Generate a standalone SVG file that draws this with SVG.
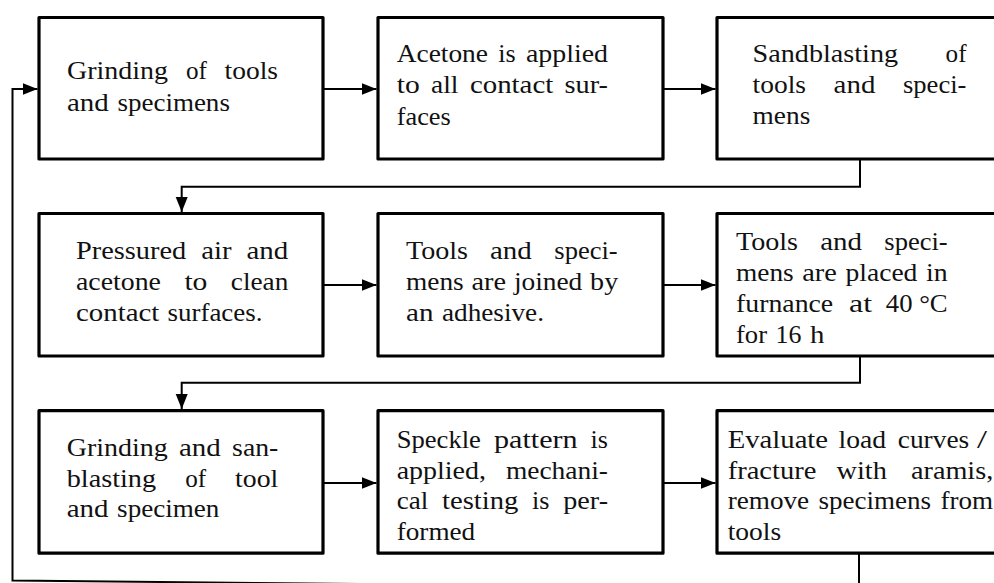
<svg xmlns="http://www.w3.org/2000/svg" width="994" height="583" viewBox="0 0 994 583">
<defs>
<style>
.box{fill:#fff;stroke:#000;stroke-width:3.2;stroke-linejoin:round}
.c{fill:none;stroke:#000;stroke-width:2}
.t text{font-family:'Liberation Serif','DejaVu Serif','Times New Roman',serif;font-size:25px;fill:#111}
</style>
<marker id="ah" markerUnits="userSpaceOnUse" markerWidth="16" markerHeight="13" refX="15" refY="6" orient="auto">
<path d="M0,0 L15,6 L0,12 z" fill="#000"/>
</marker>
</defs>
<rect width="994" height="583" fill="#fff"/>

<g id="connectors">
<path class="c" d="M323,89 H376.5" marker-end="url(#ah)"/>
<path class="c" d="M663,89 H715.5" marker-end="url(#ah)"/>
<path class="c" d="M860,159 V186.7 H181.7 V212" marker-end="url(#ah)"/>
<path class="c" d="M323,285 H376.5" marker-end="url(#ah)"/>
<path class="c" d="M663,285 H715.5" marker-end="url(#ah)"/>
<path class="c" d="M860,356 V382.7 H181.7 V409" marker-end="url(#ah)"/>
<path class="c" d="M323,483 H376.5" marker-end="url(#ah)"/>
<path class="c" d="M663,483 H715.5" marker-end="url(#ah)"/>
<path class="c" d="M859,553 V589 L12.5,580.5 V89 H37.5" marker-end="url(#ah)"/>
</g>

<g id="n1" class="t">
<rect class="box" x="39" y="17.5" width="284" height="141.5"/>
<text x="67" y="79" textLength="101" lengthAdjust="spacingAndGlyphs">Grinding</text>
<text x="185.9" y="79" textLength="20.9" lengthAdjust="spacingAndGlyphs">of</text>
<text x="224.6" y="79" textLength="53.4" lengthAdjust="spacingAndGlyphs">tools</text>
<text x="67" y="111" textLength="41.8" lengthAdjust="spacingAndGlyphs">and</text>
<text x="117.4" y="111" textLength="112.5" lengthAdjust="spacingAndGlyphs">specimens</text>
</g>

<g id="n2" class="t">
<rect class="box" x="378" y="17.5" width="285" height="141.5"/>
<text x="396.7" y="61.7" textLength="91.3" lengthAdjust="spacingAndGlyphs">Acetone</text>
<text x="498.3" y="61.7" textLength="17.4" lengthAdjust="spacingAndGlyphs">is</text>
<text x="526" y="61.7" textLength="82" lengthAdjust="spacingAndGlyphs">applied</text>
<text x="396.7" y="93.3" textLength="23" lengthAdjust="spacingAndGlyphs">to</text>
<text x="431.1" y="93.3" textLength="27.4" lengthAdjust="spacingAndGlyphs">all</text>
<text x="469.9" y="93.3" textLength="83.4" lengthAdjust="spacingAndGlyphs">contact</text>
<text x="564.6" y="93.3" textLength="43.4" lengthAdjust="spacingAndGlyphs">sur-</text>
<text x="396.7" y="124.5" textLength="54.1" lengthAdjust="spacingAndGlyphs">faces</text>
</g>

<g id="n3" class="t">
<rect class="box" x="717" y="17.5" width="284" height="141.5"/>
<text x="752.6" y="61.7" textLength="145.5" lengthAdjust="spacingAndGlyphs">Sandblasting</text>
<text x="945.6" y="61.7" textLength="20.9" lengthAdjust="spacingAndGlyphs">of</text>
<text x="752.6" y="93" textLength="53.4" lengthAdjust="spacingAndGlyphs">tools</text>
<text x="833.6" y="93" textLength="41.8" lengthAdjust="spacingAndGlyphs">and</text>
<text x="903" y="93" textLength="63.4" lengthAdjust="spacingAndGlyphs">speci-</text>
<text x="752.6" y="124.3" textLength="57.7" lengthAdjust="spacingAndGlyphs">mens</text>
</g>

<g id="n4" class="t">
<rect class="box" x="39" y="213.5" width="284" height="142.5"/>
<text x="76" y="259" textLength="110.2" lengthAdjust="spacingAndGlyphs">Pressured</text>
<text x="201.2" y="259" textLength="30.3" lengthAdjust="spacingAndGlyphs">air</text>
<text x="246.5" y="259" textLength="41.8" lengthAdjust="spacingAndGlyphs">and</text>
<text x="76" y="290" textLength="84.9" lengthAdjust="spacingAndGlyphs">acetone</text>
<text x="184.4" y="290" textLength="23" lengthAdjust="spacingAndGlyphs">to</text>
<text x="230.8" y="290" textLength="57.5" lengthAdjust="spacingAndGlyphs">clean</text>
<text x="76" y="320.7" textLength="83.4" lengthAdjust="spacingAndGlyphs">contact</text>
<text x="167.5" y="320.7" textLength="95" lengthAdjust="spacingAndGlyphs">surfaces.</text>
</g>

<g id="n5" class="t">
<rect class="box" x="378" y="213.5" width="285" height="142.5"/>
<text x="406" y="259" textLength="62" lengthAdjust="spacingAndGlyphs">Tools</text>
<text x="490" y="259" textLength="41.8" lengthAdjust="spacingAndGlyphs">and</text>
<text x="554.3" y="259" textLength="63.4" lengthAdjust="spacingAndGlyphs">speci-</text>
<text x="406" y="290" textLength="57.7" lengthAdjust="spacingAndGlyphs">mens</text>
<text x="471.5" y="290" textLength="34.6" lengthAdjust="spacingAndGlyphs">are</text>
<text x="513.9" y="290" textLength="68.4" lengthAdjust="spacingAndGlyphs">joined</text>
<text x="590.1" y="290" textLength="28.1" lengthAdjust="spacingAndGlyphs">by</text>
<text x="406" y="320.7" textLength="27.4" lengthAdjust="spacingAndGlyphs">an</text>
<text x="442" y="320.7" textLength="102" lengthAdjust="spacingAndGlyphs">adhesive.</text>
</g>

<g id="n6" class="t">
<rect class="box" x="717" y="213.5" width="284" height="142.5"/>
<text x="736" y="250" textLength="62" lengthAdjust="spacingAndGlyphs">Tools</text>
<text x="820.2" y="250" textLength="41.8" lengthAdjust="spacingAndGlyphs">and</text>
<text x="884.3" y="250" textLength="63.4" lengthAdjust="spacingAndGlyphs">speci-</text>
<text x="736" y="281" textLength="57.7" lengthAdjust="spacingAndGlyphs">mens</text>
<text x="802.3" y="281" textLength="34.6" lengthAdjust="spacingAndGlyphs">are</text>
<text x="845.5" y="281" textLength="71.9" lengthAdjust="spacingAndGlyphs">placed</text>
<text x="926.1" y="281" textLength="21.6" lengthAdjust="spacingAndGlyphs">in</text>
<text x="736" y="311.7" textLength="97.2" lengthAdjust="spacingAndGlyphs">furnance</text>
<text x="849" y="311.7" textLength="23" lengthAdjust="spacingAndGlyphs">at</text>
<text x="885.8" y="311.7" textLength="61.9" lengthAdjust="spacingAndGlyphs">40 °C</text>
<text x="736" y="343.3" textLength="31" lengthAdjust="spacingAndGlyphs">for</text>
<text x="775.6" y="343.3" textLength="25.9" lengthAdjust="spacingAndGlyphs">16</text>
<text x="810.1" y="343.3" textLength="14.4" lengthAdjust="spacingAndGlyphs">h</text>
</g>

<g id="n7" class="t">
<rect class="box" x="39" y="410.7" width="284" height="142.5"/>
<text x="66.7" y="456" textLength="101" lengthAdjust="spacingAndGlyphs">Grinding</text>
<text x="179" y="456" textLength="41.8" lengthAdjust="spacingAndGlyphs">and</text>
<text x="232.1" y="456" textLength="46.2" lengthAdjust="spacingAndGlyphs">san-</text>
<text x="66.7" y="486.7" textLength="89.4" lengthAdjust="spacingAndGlyphs">blasting</text>
<text x="185.2" y="486.7" textLength="20.9" lengthAdjust="spacingAndGlyphs">of</text>
<text x="235.1" y="486.7" textLength="43.2" lengthAdjust="spacingAndGlyphs">tool</text>
<text x="66.7" y="517.3" textLength="41.8" lengthAdjust="spacingAndGlyphs">and</text>
<text x="117.1" y="517.3" textLength="102.3" lengthAdjust="spacingAndGlyphs">specimen</text>
</g>

<g id="n8" class="t">
<rect class="box" x="378" y="410.7" width="285" height="142.5"/>
<text x="396.7" y="448" textLength="84.2" lengthAdjust="spacingAndGlyphs">Speckle</text>
<text x="494" y="448" textLength="83.6" lengthAdjust="spacingAndGlyphs">pattern</text>
<text x="590.6" y="448" textLength="17.4" lengthAdjust="spacingAndGlyphs">is</text>
<text x="396.7" y="479" textLength="89.3" lengthAdjust="spacingAndGlyphs">applied,</text>
<text x="505.9" y="479" textLength="102.1" lengthAdjust="spacingAndGlyphs">mechani-</text>
<text x="396.7" y="509.3" textLength="31.6" lengthAdjust="spacingAndGlyphs">cal</text>
<text x="442" y="509.3" textLength="76.4" lengthAdjust="spacingAndGlyphs">testing</text>
<text x="532.1" y="509.3" textLength="17.4" lengthAdjust="spacingAndGlyphs">is</text>
<text x="563.3" y="509.3" textLength="44.7" lengthAdjust="spacingAndGlyphs">per-</text>
<text x="396.7" y="540" textLength="78.5" lengthAdjust="spacingAndGlyphs">formed</text>
</g>

<g id="n9" class="t">
<rect class="box" x="717" y="410.7" width="300" height="142.5"/>
<text x="727.7" y="448.3" textLength="100.4" lengthAdjust="spacingAndGlyphs">Evaluate</text>
<text x="838.5" y="448.3" textLength="47.5" lengthAdjust="spacingAndGlyphs">load</text>
<text x="897.8" y="448.3" textLength="71.4" lengthAdjust="spacingAndGlyphs">curves</text>
<text x="977" y="448.3" textLength="10" lengthAdjust="spacingAndGlyphs">/</text>
<text x="727.7" y="479" textLength="88.7" lengthAdjust="spacingAndGlyphs">fracture</text>
<text x="836.5" y="479" textLength="50.4" lengthAdjust="spacingAndGlyphs">with</text>
<text x="911" y="479" textLength="82.2" lengthAdjust="spacingAndGlyphs">aramis,</text>
<text x="727.7" y="509.3" textLength="81.4" lengthAdjust="spacingAndGlyphs">remove</text>
<text x="818.5" y="509.3" textLength="112.5" lengthAdjust="spacingAndGlyphs">specimens</text>
<text x="940.4" y="509.3" textLength="52.6" lengthAdjust="spacingAndGlyphs">from</text>
<text x="727.7" y="540" textLength="53.4" lengthAdjust="spacingAndGlyphs">tools</text>
</g>
</svg>
